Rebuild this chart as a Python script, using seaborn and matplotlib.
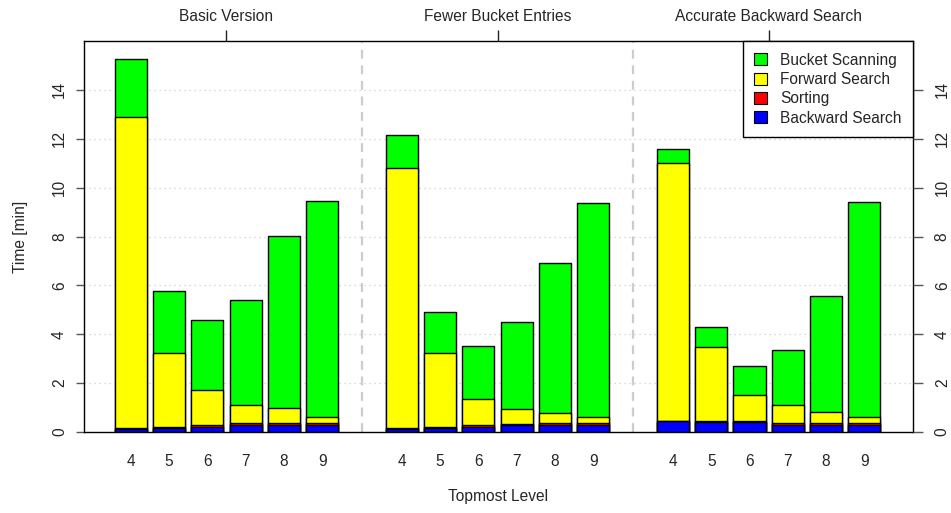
import matplotlib
matplotlib.use("Agg")
import numpy as np
import pandas as pd
import seaborn as sns
import matplotlib.pyplot as plt
from matplotlib.patches import Patch

# ---------------- data ----------------
versions = ["Basic Version", "Fewer Bucket Entries", "Accurate Backward Search"]
levels = [4, 5, 6, 7, 8, 9]
components = ["Bucket Scanning", "Forward Search", "Sorting", "Backward Search"]
colors = {"Bucket Scanning": "#00FF00", "Forward Search": "#FFFF00",
          "Sorting": "#FF0000", "Backward Search": "#0000FF"}

backward_basic = [0.12, 0.15, 0.22, 0.30, 0.30, 0.29]
sorting_basic = [0.05, 0.06, 0.08, 0.08, 0.08, 0.09]
forward_basic = [12.71, 3.02, 1.42, 0.74, 0.59, 0.23]
bucket_basic = [2.37, 2.52, 2.86, 4.28, 7.05, 8.84]

backward_fewer = [0.12, 0.16, 0.22, 0.27, 0.30, 0.30]
sorting_fewer = [0.05, 0.06, 0.07, 0.07, 0.07, 0.07]
forward_fewer = [10.63, 3.01, 1.07, 0.61, 0.42, 0.26]
bucket_fewer = [1.36, 1.67, 2.16, 3.55, 6.11, 8.74]

backward_accurate = [0.44, 0.42, 0.42, 0.30, 0.29, 0.29]
sorting_accurate = [0.02, 0.02, 0.05, 0.07, 0.07, 0.07]
forward_accurate = [10.56, 3.04, 1.06, 0.72, 0.45, 0.27]
bucket_accurate = [0.58, 0.80, 1.17, 2.26, 4.76, 8.80]

series = {
    "Basic Version": (backward_basic, sorting_basic, forward_basic, bucket_basic),
    "Fewer Bucket Entries": (backward_fewer, sorting_fewer, forward_fewer, bucket_fewer),
    "Accurate Backward Search": (backward_accurate, sorting_accurate, forward_accurate, bucket_accurate),
}

# ---------------- layout ----------------
group_step = 7.08
rows = []
for g, v in enumerate(versions):
    bw, so, fw, bu = series[v]
    for i, lvl in enumerate(levels):
        pos = g * group_step + i
        c1 = bw[i]
        c2 = c1 + so[i]
        c3 = c2 + fw[i]
        c4 = c3 + bu[i]
        rows += [
            dict(version=v, level=lvl, pos=pos, component="Bucket Scanning", top=c4),
            dict(version=v, level=lvl, pos=pos, component="Forward Search", top=c3),
            dict(version=v, level=lvl, pos=pos, component="Sorting", top=c2),
            dict(version=v, level=lvl, pos=pos, component="Backward Search", top=c1),
        ]
df = pd.DataFrame(rows)

sns.set_style("white")
plt.rcParams["font.family"] = ["Liberation Sans", "DejaVu Sans"]
FS = 11.2

W, H = 951, 513
fig = plt.figure(figsize=(W / 100, H / 100), dpi=100)
L, R, T, B = 84, 913, 41, 432
ax = fig.add_axes([L / W, (H - B) / H, (R - L) / W, (B - T) / H])

# grid lines behind bars
for yv in range(2, 16, 2):
    ax.axhline(yv, color="#cfcfcf", lw=0.9, ls=(0, (1, 3)), zorder=0)
for g in range(1, len(versions)):
    xsep = g * group_step - (group_step - 5) / 2
    ax.axvline(xsep, color="#cccccc", lw=1.6, ls=(0, (4, 3)), zorder=0)

for comp in components:  # tallest cumulative first
    sub = df[df.component == comp]
    sns.barplot(data=sub, x="pos", y="top", native_scale=True, orient="x",
                width=0.84, color=colors[comp], saturation=1,
                edgecolor="black", linewidth=1.0, errorbar=None, ax=ax, zorder=2)

ax.set_ylim(0, 16)
ax.set_xlim(-1.22, 2 * group_step + 5 + 1.27)

positions = [g * group_step + i for g in range(len(versions)) for i in range(len(levels))]
ax.set_xticks(positions)
ax.set_xticklabels([str(l) for _ in versions for l in levels])
ax.set_yticks(range(0, 16, 2))
ax.set_yticklabels([str(v) for v in range(0, 16, 2)])
ax.tick_params(axis="x", length=6.5, width=1, color="#444444", pad=9, labelsize=FS)
ax.tick_params(axis="y", length=5.8, width=1, color="#555555", pad=6.5, labelsize=FS,
               labelrotation=90)
for lab in ax.get_yticklabels():
    lab.set_va("center")
ax.set_xlabel("Topmost Level", fontsize=FS)
ax.set_ylabel("Time [min]", fontsize=FS)
ax.xaxis.set_label_coords((498 - L) / (R - L), (B - 496) / (B - T))
ax.yaxis.set_label_coords((20 - L) / (R - L), 0.5)
ax.xaxis.label.set_va("center")
ax.yaxis.label.set_va("center")

for s in ax.spines.values():
    s.set_visible(True)
    s.set_color("black")
    s.set_linewidth(1.0)

# right axis
ax2 = ax.twinx()
ax2.set_ylim(0, 16)
ax2.set_yticks(range(0, 16, 2))
ax2.set_yticklabels([str(v) for v in range(0, 16, 2)])
ax2.tick_params(axis="y", length=7.2, width=1, color="#555555", pad=8.5, labelsize=FS,
                labelrotation=90)
for lab in ax2.get_yticklabels():
    lab.set_va("center")
for s in ax2.spines.values():
    s.set_visible(False)

# top axis with version names
centers = [g * group_step + 2.5 for g in range(len(versions))]
top = ax.secondary_xaxis("top")
top.set_xticks(centers)
top.set_xticklabels(versions)
top.tick_params(length=8, width=1, color="#222222", pad=4.5, labelsize=FS)
top.spines["top"].set_visible(False)

handles = [Patch(facecolor=colors[c], edgecolor="black", linewidth=0.8) for c in components]
leg = ax2.legend(handles, components, loc="upper right", bbox_to_anchor=(1, 1),
                 borderaxespad=0, fancybox=False, framealpha=1, edgecolor="black",
                 fontsize=FS, handlelength=0.8, handleheight=0.8, handletextpad=0.85,
                 labelspacing=0.28, borderpad=0.75)
leg.get_frame().set_linewidth(1.0)
leg.set_zorder(10)

fig.savefig("out.png", dpi=100)
